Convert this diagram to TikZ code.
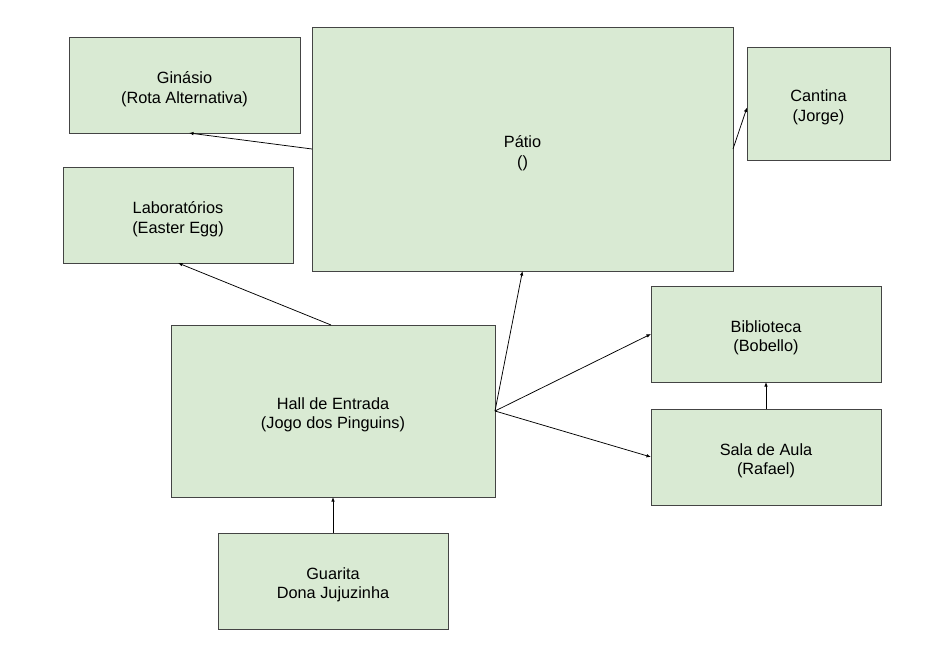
\documentclass[tikz,border=0pt]{standalone}
\usepackage{fontspec}
\setmainfont{Liberation Sans}
\usetikzlibrary{arrows.meta,positioning}
\definecolor{roomfill}{HTML}{D9EAD3}
\definecolor{roomline}{HTML}{444444}

\begin{document}
\begin{tikzpicture}[x=1pt,y=-1pt,
		roomtext/.style={align=center,font=\fontsize{16.3}{19.5}\selectfont,yshift=-4pt,inner sep=0pt},
		room/.style={draw=roomline,fill=roomfill,line width=0.9pt,inner sep=0pt,outer sep=0pt,
			label={[roomtext]center:#1}},
		every path/.append style={line width=0.75pt},
		>={Latex[length=4.5pt,width=3.5pt]}]
		\useasboundingbox (0,0) rectangle (932,647);
		\node[room={Ginásio\\(Rota Alternativa)},minimum width=231,minimum height=96] (gin) at (184.5,85) {};
		\node[room={Pátio\\()},minimum width=421,minimum height=244] (patio) at (522.5,149) {};
		\node[room={Cantina\\(Jorge)},minimum width=143,minimum height=113] (cant) at (818.5,103.5) {};
		\node[room={Laboratórios\\(Easter Egg)},minimum width=230,minimum height=96] (lab) at (178,215) {};
		\node[room={Hall de Entrada\\(Jogo dos Pinguins)},minimum width=324,minimum height=172] (hall) at (333,411) {};
		\node[room={Biblioteca\\(Bobello)},minimum width=230,minimum height=96] (bib) at (766,334) {};
		\node[room={Sala de Aula\\(Rafael)},minimum width=230,minimum height=96] (sala) at (766,457) {};
		\node[room={Guarita\\Dona Jujuzinha},minimum width=230,minimum height=96] (guar) at (333,581) {};
		\draw [->] (patio.west)--([xshift=4.5pt]gin.south);
		\draw [->] (patio.east)--([yshift=-4pt]cant.west);
		\draw [->] ([xshift=-2pt]hall.north)--(lab.south);
		\draw [->] (hall.east)--(patio.south);
		\draw [->] (hall.east)--(bib.west);
		\draw [->] (hall.east)--(sala.west);
		\draw [->] (sala.north)--(bib.south);
		\draw [->] (guar.north)--(hall.south);
		\end{tikzpicture}
\end{document}
